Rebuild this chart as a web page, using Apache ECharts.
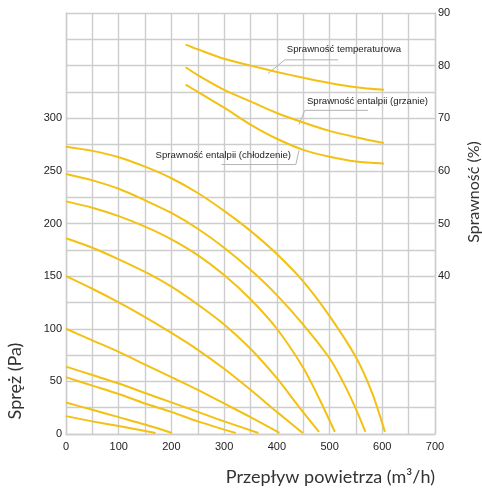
<!DOCTYPE html>
<html>
<head>
<meta charset="utf-8">
<script src="https://cdn.jsdelivr.net/npm/echarts@6/dist/echarts.min.js"></script>
<style>
  html, body { margin: 0; padding: 0; background: #fff; }
  #chart { width: 482px; height: 488px; }
</style>
</head>
<body>
<div id="chart"></div>
<script>
// Fan curves: static pressure (Pa) against airflow (m³/h)
const fanCurve1 = [[0,273],[50,269],[100,263],[150,254],[200,243],[250,229],[300,212],[350,193],[400,171],[450,145],[500,112],[550,73],[580,40],[605,2]];
const fanCurve2 = [[0,247],[50,241],[100,233],[150,222],[200,210],[250,195],[300,177],[350,156],[400,132],[450,104],[500,72],[525,50],[548,26],[568,2]];
const fanCurve3 = [[0,221],[50,215],[100,207],[150,197],[200,185],[250,170],[300,151],[350,128],[400,100],[450,63],[480,34],[510,2]];
const fanCurve4 = [[0,186],[50,177],[100,166],[150,154],[200,140],[250,123],[300,104],[350,81],[400,53],[440,27],[480,2]];
const fanCurve5 = [[0,150],[50,138],[100,125],[150,111],[200,96],[250,80],[300,62],[350,42],[400,21],[449,1]];
const fanCurve6 = [[0,100],[50,89],[100,78],[150,66],[200,54],[250,42],[300,29],[350,16],[405,1]];
const fanCurve7 = [[0,64],[50,56],[100,48],[150,39],[200,30],[250,21],[300,12],[365,1]];
const fanCurve8 = [[0,54],[50,46],[100,38],[150,29],[200,21],[250,12],[322,1]];
const fanCurve9 = [[0,30],[50,23],[100,16],[150,9],[201,1]];
const fanCurve10 = [[0,17],[50,12],[100,7.5],[170,1]];

// Efficiency (%) against airflow (m³/h)
const effTemperature = [[227,84],[250,83.1],[300,81.3],[350,80],[400,78.8],[450,77.7],[500,76.7],[550,75.9],[603,75.4]];
const effEnthalpyHeating = [[227,79.7],[250,78.2],[300,75.4],[350,73.2],[400,71],[450,69.2],[500,67.6],[550,66.4],[603,65.3]];
const effEnthalpyCooling = [[227,76.4],[250,75],[300,72],[350,68.8],[400,66.1],[450,64],[500,62.7],[550,61.8],[603,61.4]];

// Axis ticks
const flowTicks = [0, 100, 200, 300, 400, 500, 600, 700];
const pressureTicks = [0, 50, 100, 150, 200, 250, 300];
const efficiencyTicks = [40, 50, 60, 70, 80, 90];

// Callouts: label, text anchor, leader polyline (flow, efficiency)
const calloutLabels = ['Sprawność temperaturowa', 'Sprawność entalpii (grzanie)', 'Sprawność entalpii (chłodzenie)'];
const calloutText = [[419, 83.0], [457, 73.3], [170, 63.0]];
const calloutLeaders = [
  [[383.5, 78.5], [415, 81.1], [516, 81.1]],
  [[442, 68.8], [453, 71.5], [573, 71.5]],
  [[295, 61.2], [436, 61.2], [442, 63.9]]
];

const LINE = '#f3c112';
const GRID = '#cdcdcd';
const LABEL_FONT = '"Liberation Sans", Arial, sans-serif';
const TITLE_FONT = 'Lato, "Open Sans", sans-serif';

const fanCurves = [fanCurve1, fanCurve2, fanCurve3, fanCurve4, fanCurve5, fanCurve6, fanCurve7, fanCurve8, fanCurve9, fanCurve10];
const effCurves = [effTemperature, effEnthalpyHeating, effEnthalpyCooling];

const chart = echarts.init(document.getElementById('chart'), null, { renderer: 'canvas' });

function curveSeries(d, yAxisIndex) {
  return {
    type: 'line', xAxisIndex: 0, yAxisIndex: yAxisIndex, data: d,
    smooth: 0.3,
    showSymbol: false, lineStyle: { color: LINE, width: 2 }, silent: true, animation: false
  };
}
const series = fanCurves.map(function (d) { return curveSeries(d, 0); })
  .concat(effCurves.map(function (d) { return curveSeries(d, 1); }));

const gridLine = { show: true, lineStyle: { color: GRID, width: 1.4 } };

chart.setOption({
  animation: false,
  backgroundColor: '#fff',
  grid: { left: 66, right: 47, top: 13, bottom: 54, containLabel: false },
  xAxis: {
    type: 'value', min: 0, max: 700, interval: 50,
    axisLine: gridLine,
    axisTick: { show: false },
    splitLine: gridLine,
    axisLabel: {
      margin: 7, color: '#222', fontSize: 11, fontFamily: LABEL_FONT,
      formatter: function (v) { return flowTicks.indexOf(v) >= 0 ? String(v) : ''; }
    }
  },
  yAxis: [{
    type: 'value', min: 0, max: 400, interval: 25, position: 'left',
    axisLine: gridLine,
    axisTick: { show: false },
    splitLine: gridLine,
    axisLabel: {
      margin: 4, color: '#222', fontSize: 11, fontFamily: LABEL_FONT,
      formatter: function (v) { return pressureTicks.indexOf(v) >= 0 ? String(v) : ''; }
    }
  }, {
    type: 'value', min: 10, max: 90, interval: 10, position: 'right',
    axisLine: gridLine,
    axisTick: { show: false },
    splitLine: { show: false },
    axisLabel: {
      margin: 3, color: '#222', fontSize: 11, fontFamily: LABEL_FONT,
      formatter: function (v) { return efficiencyTicks.indexOf(v) >= 0 ? String(v) : ''; }
    }
  }],
  series: series
});

// Callouts and axis titles, placed through the axis scales
function toPx(p) { return chart.convertToPixel({ xAxisIndex: 0, yAxisIndex: 1 }, p); }

const graphics = [];
calloutLeaders.forEach(function (pts) {
  graphics.push({
    type: 'polyline', silent: true,
    shape: { points: pts.map(toPx) },
    style: { stroke: '#b4b4b4', lineWidth: 1, fill: null }
  });
});
calloutLabels.forEach(function (txt, i) {
  const p = toPx(calloutText[i]);
  graphics.push({
    type: 'text', silent: true, x: p[0], y: p[1],
    style: { text: txt, fill: '#222', font: '9.6px ' + LABEL_FONT, textAlign: 'left', textVerticalAlign: 'middle' }
  });
});
const gridRect = chart.getModel().getComponent('grid').coordinateSystem.getRect();
graphics.push({
  type: 'text', silent: true, x: gridRect.x + gridRect.width, y: 477,
  style: { text: 'Przepływ powietrza (m³/h)', fill: '#333', font: '18px ' + TITLE_FONT, textAlign: 'right', textVerticalAlign: 'middle' }
});
graphics.push({
  type: 'text', silent: true, x: 15, y: 381, rotation: Math.PI / 2,
  style: { text: 'Spręż (Pa)', fill: '#333', font: '18px ' + TITLE_FONT, textAlign: 'center', textVerticalAlign: 'middle' }
});
graphics.push({
  type: 'text', silent: true, x: 474, y: 192, rotation: Math.PI / 2,
  style: { text: 'Sprawność (%)', fill: '#333', font: '16px ' + TITLE_FONT, textAlign: 'center', textVerticalAlign: 'middle' }
});
chart.setOption({ graphic: graphics });
</script>
</body>
</html>
